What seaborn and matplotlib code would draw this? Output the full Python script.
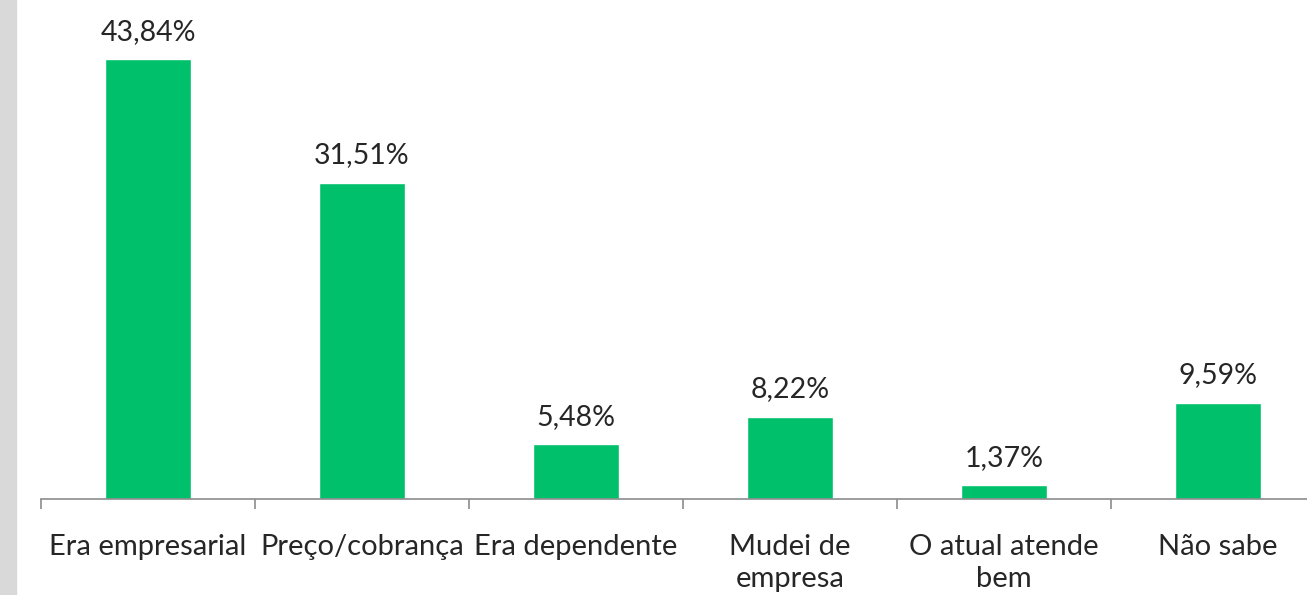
import numpy as np
import pandas as pd
import matplotlib
matplotlib.use("Agg")
import matplotlib.pyplot as plt
import seaborn as sns
from matplotlib.patches import Rectangle

categories = ["Era empresarial", "Preço/cobrança", "Era dependente",
              "Mudei de\nempresa", "O atual atende\nbem", "Não sabe"]
values = [43.84, 31.51, 5.48, 8.22, 1.37, 9.59]
value_labels = ["43,84%", "31,51%", "5,48%", "8,22%", "1,37%", "9,59%"]

df = pd.DataFrame({"motivo": categories, "pct": values})

sns.set_style("white")
plt.rcParams["font.family"] = ["Lato", "DejaVu Sans"]
text_color = "#262626"
axis_color = "#8c8c8c"

fig = plt.figure(figsize=(13.07, 5.95), dpi=100)
W, H = 1307, 595
ax = fig.add_axes([41 / W, (H - 499) / H, (1325 - 41) / W, 499 / H])

sns.barplot(data=df, x="motivo", y="pct", color="#00C06B", width=0.4,
            saturation=1, ax=ax)

ax.set_xlim(-0.5, len(categories) - 0.5)
ax.set_ylim(0, 499 / 10.03)

for i, (v, lab) in enumerate(zip(values, value_labels)):
    ax.annotate(lab, (i, v), xytext=(0, 14), textcoords="offset points",
                ha="center", va="baseline", fontsize=20.5, color=text_color)

sns.despine(ax=ax, left=True)
ax.spines["bottom"].set_color(axis_color)
ax.spines["bottom"].set_linewidth(1.2)
ax.set_yticks([])
ax.set_xlabel("")
ax.set_ylabel("")
ax.set_xticks(range(len(categories)))
ax.set_xticklabels(categories, fontsize=21, color=text_color, linespacing=1.3)
ax.tick_params(axis="x", which="major", length=0, pad=25)
ax.set_xticks(np.arange(-0.5, len(categories), 1.0), minor=True)
ax.tick_params(axis="x", which="minor", length=7, width=1.2, color=axis_color,
               direction="out", bottom=True)

fig.patches.append(Rectangle((0, 0), 16 / W, 1, transform=fig.transFigure,
                             color="#d9d9d9", zorder=-1))

fig.savefig("out.png", dpi=100)
